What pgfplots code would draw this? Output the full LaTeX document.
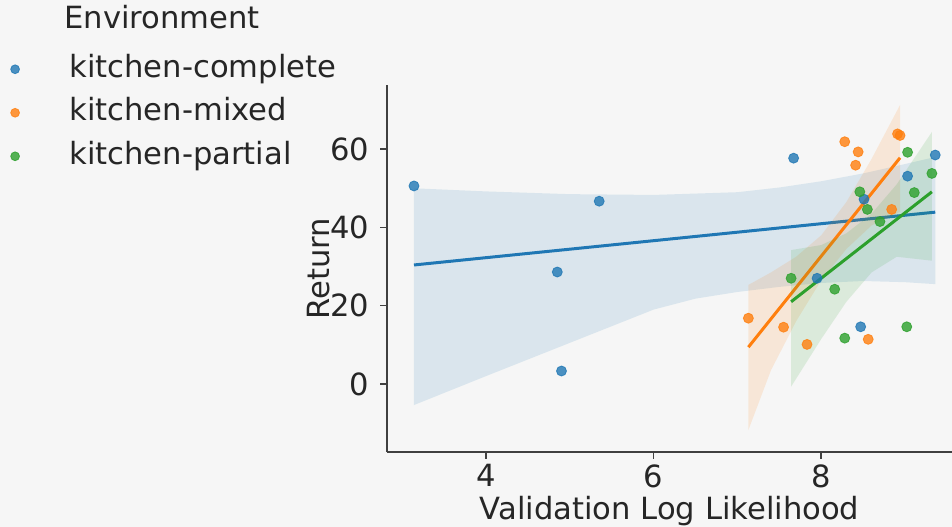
\documentclass[border=0pt]{standalone}
\usepackage{fontspec}
\setmainfont{DejaVu Sans}
\usepackage{pgfplots}
\pgfplotsset{compat=1.18}
\definecolor{cb}{HTML}{1F77B4}
\definecolor{co}{HTML}{FF7F0E}
\definecolor{cg}{HTML}{2CA02C}
\definecolor{bg}{HTML}{F6F6F6}
\definecolor{txt}{HTML}{262626}
\begin{document}
\fontsize{15.3bp}{18bp}\selectfont
\begin{tikzpicture}
\path[fill=bg, use as bounding box] (0,0) rectangle (476bp,263.5bp);
\begin{axis}[
  at={(193.5bp,37.5bp)}, anchor=south west,
  scale only axis, width=282.5bp, height=183.5bp,
  xmin=2.818, xmax=9.56, ymin=-17.4, ymax=76.4,
  axis x line*=bottom, axis y line*=left,
  axis line style={black!75, line width=0.8bp, -},
  xtick={4,6,8}, ytick={0,20,40,60},
  tick align=outside, major tick length=3.5bp,
  tick style={black!75, line width=0.8bp},
  ticklabel style={font=\fontsize{15.3bp}{18bp}\selectfont, text=txt},
  xticklabel style={yshift=2.5bp},
  /pgf/number format/assume math mode=true,
  xlabel={Validation Log Likelihood}, ylabel={Return},
  label style={font=\fontsize{15.3bp}{18bp}\selectfont, text=txt},
  xlabel style={at={(axis description cs:0.5,-0.16)}, anchor=center},
  ylabel style={at={(axis description cs:-0.122,0.5)}, anchor=center},
  legend style={at={(axis description cs:-0.666,1.2044)}, anchor=north west,
    draw=none, fill=none, inner sep=0pt, outer sep=0pt,
    font=\fontsize{15.3bp}{18bp}\selectfont, text=txt,
    row sep=6bp,
    nodes={inner sep=0pt, text height=0.78em, text depth=0.25em},
    /tikz/every odd column/.append style={column sep=25bp}},
  legend cell align=left,
  legend image code/.code={\draw[#1, mark size=2.2bp] plot coordinates {(0bp,0bp)};},
]
\addlegendimage{empty legend}
\addlegendentry{\hspace*{-2.5bp}\raisebox{2.5bp}{Environment}}

% kitchen-complete
\addplot[only marks, mark=*, mark size=2.5bp, color=cb, mark options={opacity=0.8}]
  coordinates {(3.14,50.6) (4.85,28.6) (5.35,46.7) (4.90,3.3) (7.67,57.7) (7.95,27.0) (8.47,14.6) (8.51,47.2) (9.03,53.1) (9.36,58.5)};
\addlegendentry{kitchen-complete}
\addplot[fill=cb, fill opacity=0.13, draw=none, forget plot]
  coordinates {(3.14,50.0) (4.0,49.2) (5.0,48.5) (6.0,48.3) (7.0,49.0) (7.5,50.2) (8.0,51.8) (8.5,53.8) (9.0,56.2) (9.36,58.0)
               (9.36,25.5) (9.0,26.0) (8.5,26.3) (8.0,25.8) (7.5,24.8) (7.0,23.5) (6.5,21.8) (6.0,19.0) (5.0,10.5) (4.0,2.0) (3.14,-5.4)} -- cycle;
\addplot[cb, line width=1.5bp, forget plot] coordinates {(3.14,30.4) (9.36,43.9)};

% kitchen-mixed
\addplot[only marks, mark=*, mark size=2.5bp, color=co, mark options={opacity=0.8}]
  coordinates {(8.28,61.9) (8.44,59.3) (8.41,55.9) (8.91,63.9) (8.94,63.5) (8.84,44.6) (7.13,16.8) (7.55,14.5) (7.83,10.1) (8.56,11.4)};
\addlegendentry{kitchen-mixed}
\addplot[fill=co, fill opacity=0.13, draw=none, forget plot]
  coordinates {(7.13,25.3) (7.4,28.5) (7.7,32.5) (8.0,38.0) (8.3,46.5) (8.6,57.5) (8.94,71.3)
               (8.94,44.0) (8.6,40.5) (8.3,34.5) (8.0,26.5) (7.7,16.0) (7.4,3.5) (7.13,-11.8)} -- cycle;
\addplot[co, line width=1.5bp, forget plot] coordinates {(7.13,9.4) (8.94,57.8)};

% kitchen-partial
\addplot[only marks, mark=*, mark size=2.5bp, color=cg, mark options={opacity=0.8}]
  coordinates {(9.03,59.2) (9.32,53.8) (9.11,48.9) (8.46,49.1) (8.55,44.6) (8.70,41.5) (7.64,27.0) (8.16,24.2) (8.28,11.7) (9.02,14.6)};
\addlegendentry{kitchen-partial}
\addplot[fill=cg, fill opacity=0.13, draw=none, forget plot]
  coordinates {(7.64,34.2) (8.0,35.5) (8.3,38.5) (8.6,43.5) (8.9,51.0) (9.32,64.4)
               (9.32,31.5) (8.9,32.5) (8.6,28.5) (8.3,21.0) (8.0,11.5) (7.64,-0.7)} -- cycle;
\addplot[cg, line width=1.5bp, forget plot] coordinates {(7.64,21.0) (9.32,49.1)};
\end{axis}
\end{tikzpicture}
\end{document}
